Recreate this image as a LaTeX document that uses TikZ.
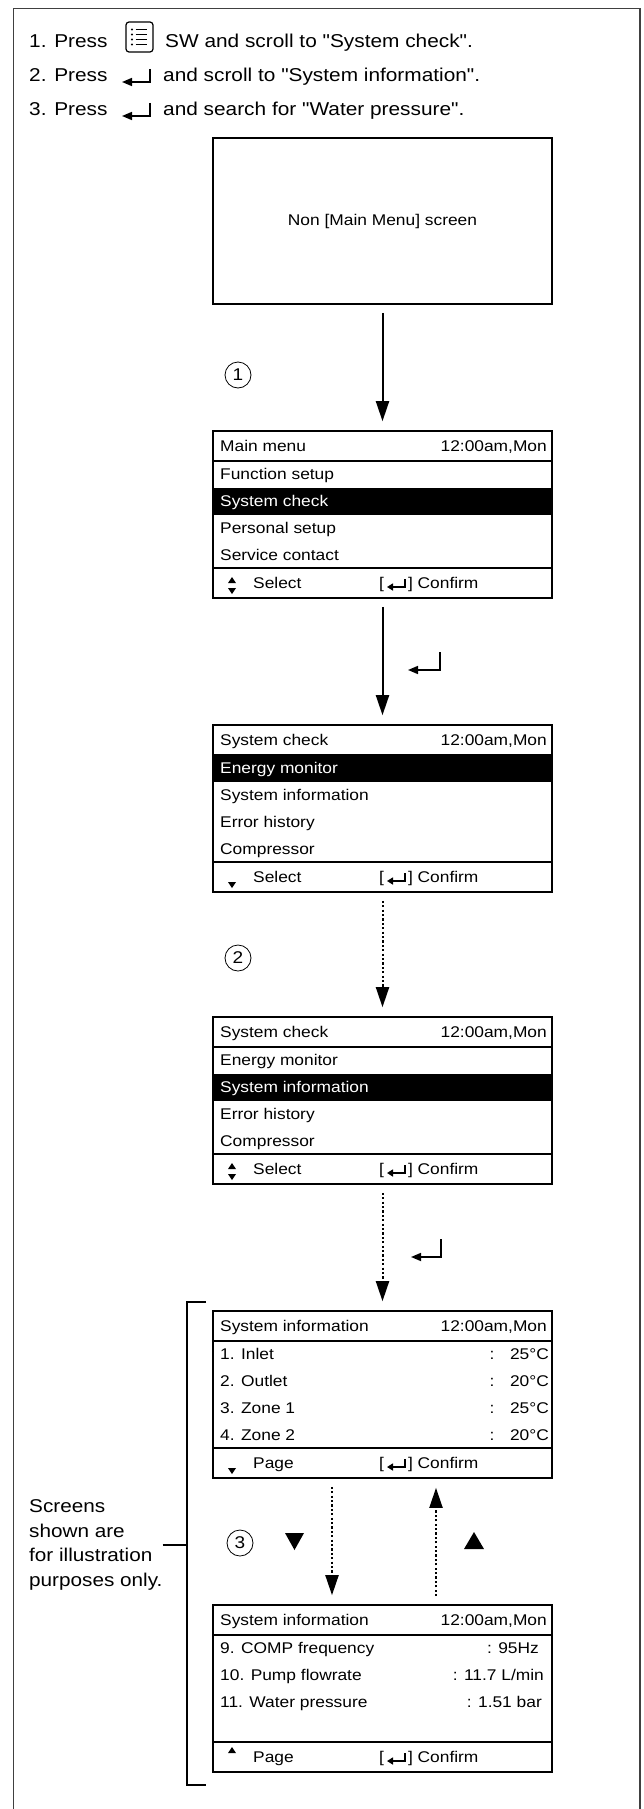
\documentclass[tikz,border=0pt]{standalone}
\usepackage{fontspec}
\setmainfont{Liberation Sans}[FakeStretch=1.12, Ligatures=TeXOff]
\usetikzlibrary{arrows.meta}

\begin{document}
\begin{tikzpicture}[
  x=1pt, y=-1pt,
  font=\fontsize{15.5}{18}\selectfont,
  frame/.style={line width=1.3pt, black!75},
  steptxt/.style={inner sep=0pt, anchor=base west, font=\fontsize{18.6}{22}\selectfont},
  lcd/.style={draw, line width=1.6pt, minimum width=339pt, inner sep=0pt},
  hdr/.style={lcd, minimum height=30pt},
  bdy/.style={lcd, minimum height=107pt},
  sel/.style={fill=black, minimum width=337pt, minimum height=26.75pt, inner sep=0pt},
  rowtxt/.style={inner sep=0pt, anchor=base west},
  valtxt/.style={inner sep=0pt, anchor=base east},
  arr/.style={line width=2pt, -{Triangle[length=20pt,width=13pt]}, shorten <=8pt, shorten >=9pt},
  darr/.style={arr, dash pattern=on 2.2pt off 2.2pt},
  num/.style={draw, circle, line width=0.8pt, minimum size=26pt, inner sep=0pt, font=\fontsize{17}{17}\selectfont},
  tri/.style={fill=black},
  brk/.style={line width=1.3pt},
  pics/retkey/.style 2 args={code={\draw[line width=1.6pt, -{Triangle[length=10pt,width=8pt]}] (0,0) -- (0,#2) -- (-#1,#2);}},
  pics/retmini/.style={code={\draw[line width=2pt, -{Triangle[length=6pt,width=7pt]}] (0,0) -- (0,8) -- (-18,8);}}
]
\useasboundingbox (0,0) rectangle (643,1809);
\draw[frame] (13.5,1809) |- (640,8.5) -- (640,1809);

% steps
\node[steptxt] (st1) at (29,48) {1. Press};
\node[draw, rounded corners=3pt, line width=1.2pt, minimum width=27pt, minimum height=30pt, inner sep=0pt] (menuic) at (139.5,37) {};
\foreach \r in {29.5,34.5,39.5,44.5}{\fill (132,\r) circle (1.1pt); \draw[line width=1.1pt] (135.5,\r) -- (147,\r);}
\node[steptxt] (st1b) at (165,48) {SW and scroll to "System check".};
\node[steptxt] (st2) at (29,82) {2. Press};
\pic at (150,69) {retkey={28}{13}};
\node[steptxt] (st2b) at (163,82) {and scroll to "System information".};
\node[steptxt] (st3) at (29,116) {3. Press};
\pic at (150,103) {retkey={28}{13}};
\node[steptxt] (st3b) at (163,116) {and search for "Water pressure".};

% start screen
\node[draw, line width=1.6pt, minimum width=339pt, minimum height=166pt] (nonmenu) at (382.5,221) {Non [Main Menu] screen};

% main menu
\begin{scope}[shift={(0,431)}]
\node[hdr] (mmhd) at (382.5,15) {};
\node[bdy] (mmbd) at (382.5,83.5) {};
\node[hdr] (mmft) at (382.5,152) {};
\node[sel] (mmsel) at (382.5,70.125) {};
\node[rowtxt] (mmttl) at (220,20.5) {Main menu};
\node[valtxt] (mmclk) at (547,20.5) {12:00am,Mon};
\foreach \t/\c [count=\i] in {Function setup/black, System check/white, Personal setup/black, Service contact/black}
  \node[rowtxt, text=\c] (mmr\i) at (220,{22.125+26.75*\i}) {\t};
\fill[tri] (228,152) -- (236,152) -- (232,146) -- cycle;
\fill[tri] (228,157) -- (236,157) -- (232,163) -- cycle;
\node[rowtxt] (mmsl) at (253,157.5) {Select};
\node[rowtxt] (mmcf) at (379,157.5) {[\hspace{24pt}] Confirm};
\pic at (405,148) {retmini};
\end{scope}

% system check, first item
\begin{scope}[shift={(0,725)}]
\node[hdr] (scahd) at (382.5,15) {};
\node[bdy] (scabd) at (382.5,83.5) {};
\node[hdr] (scaft) at (382.5,152) {};
\node[sel] (scasel) at (382.5,43.375) {};
\node[rowtxt] (scattl) at (220,20.5) {System check};
\node[valtxt] (scaclk) at (547,20.5) {12:00am,Mon};
\foreach \t/\c [count=\i] in {Energy monitor/white, System information/black, Error history/black, Compressor/black}
  \node[rowtxt, text=\c] (scar\i) at (220,{22.125+26.75*\i}) {\t};
\fill[tri] (228,157) -- (236,157) -- (232,163) -- cycle;
\node[rowtxt] (scasl) at (253,157.5) {Select};
\node[rowtxt] (scacf) at (379,157.5) {[\hspace{24pt}] Confirm};
\pic at (405,148) {retmini};
\end{scope}

% system check, system information
\begin{scope}[shift={(0,1017)}]
\node[hdr] (scbhd) at (382.5,15) {};
\node[bdy] (scbbd) at (382.5,83.5) {};
\node[hdr] (scbft) at (382.5,152) {};
\node[sel] (scbsel) at (382.5,70.125) {};
\node[rowtxt] (scbttl) at (220,20.5) {System check};
\node[valtxt] (scbclk) at (547,20.5) {12:00am,Mon};
\foreach \t/\c [count=\i] in {Energy monitor/black, System information/white, Error history/black, Compressor/black}
  \node[rowtxt, text=\c] (scbr\i) at (220,{22.125+26.75*\i}) {\t};
\fill[tri] (228,152) -- (236,152) -- (232,146) -- cycle;
\fill[tri] (228,157) -- (236,157) -- (232,163) -- cycle;
\node[rowtxt] (scbsl) at (253,157.5) {Select};
\node[rowtxt] (scbcf) at (379,157.5) {[\hspace{24pt}] Confirm};
\pic at (405,148) {retmini};
\end{scope}

% system information, page 1
\begin{scope}[shift={(0,1311)}]
\node[hdr] (siahd) at (382.5,15) {};
\node[bdy] (siabd) at (382.5,83.5) {};
\node[hdr] (siaft) at (382.5,152) {};
\node[rowtxt] (siattl) at (220,20.5) {System information};
\node[valtxt] (siaclk) at (547,20.5) {12:00am,Mon};
\foreach \t/\v [count=\i] in {1. Inlet/25°C, 2. Outlet/20°C, 3. Zone 1/25°C, 4. Zone 2/20°C}{
  \node[rowtxt] (siar\i) at (220,{22.125+26.75*\i}) {\t};
  \node[inner sep=0pt, anchor=base] (siac\i) at (492,{22.125+26.75*\i}) {:};
  \node[valtxt] (siav\i) at (549,{22.125+26.75*\i}) {\v};
}
\fill[tri] (228,157) -- (236,157) -- (232,163) -- cycle;
\node[rowtxt] (siapg) at (253,157.5) {Page};
\node[rowtxt] (siacf) at (379,157.5) {[\hspace{24pt}] Confirm};
\pic at (405,148) {retmini};
\end{scope}

% system information, page 3
\begin{scope}[shift={(0,1605)}]
\node[hdr] (sibhd) at (382.5,15) {};
\node[bdy] (sibbd) at (382.5,83.5) {};
\node[hdr] (sibft) at (382.5,152) {};
\node[rowtxt] (sibttl) at (220,20.5) {System information};
\node[valtxt] (sibclk) at (547,20.5) {12:00am,Mon};
\foreach \t/\v/\e [count=\i] in {9. COMP frequency/{: 95Hz}/539, 10. Pump flowrate/{: 11.7 L/min}/544, 11. Water pressure/{: 1.51 bar}/542}{
  \node[rowtxt] (sibr\i) at (220,{22.125+26.75*\i}) {\t};
  \node[valtxt] (sibv\i) at (\e,{22.125+26.75*\i}) {\v};
}
\fill[tri] (228,148) -- (236,148) -- (232,142) -- cycle;
\node[rowtxt] (sibpg) at (253,157.5) {Page};
\node[rowtxt] (sibcf) at (379,157.5) {[\hspace{24pt}] Confirm};
\pic at (405,148) {retmini};
\end{scope}

% flow
\draw[arr] (nonmenu) -- (mmhd);
\draw[arr] (mmft) -- (scahd);
\draw[darr] (scaft) -- (scbhd);
\draw[darr] (scbft) -- (siahd);
\draw[darr] ([xshift=-50.5pt]siaft.south) -- ([xshift=-50.5pt]sibhd.north);
\draw[darr] ([xshift=53.5pt]sibhd.north) -- ([xshift=53.5pt]siaft.south);
\pic at (440,652) {retkey={32}{18}};
\pic at (441,1239) {retkey={30}{18}};
\node[num] (stp1) at (238,375) {1};
\node[num] (stp2) at (238,958) {2};
\node[num] (stp3) at (240,1543) {3};
\fill[tri] (285,1533) -- (304,1533) -- (294.5,1550) -- cycle;
\fill[tri] (464,1549) -- (484,1549) -- (474,1532) -- cycle;

% illustration note
\coordinate (brkmid) at (187,1543);
\draw[brk] (206,1302) -| (brkmid) |- (206,1785);
\node[inner sep=0pt, anchor=west, align=left, font=\fontsize{18.5}{24.7}\selectfont] (note) at (29,1545) {Screens\\shown are\\for illustration\\purposes only.};
\draw[brk] (note.east) -- (note.east -| brkmid);
\end{tikzpicture}
\end{document}
